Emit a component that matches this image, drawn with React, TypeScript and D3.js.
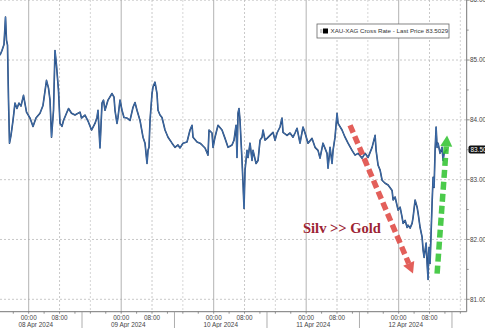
import React from "react";
import * as d3 from "d3";

// hours offset from 08 Apr 2024 00:00
const hours = [
  -7.45, -6.93, -6.41, -6.02, -5.76, -5.5, -5.24, -4.98, -4.59, -4.07, -3.56, -3.04, -2.52, -2.0, -1.35, -0.57,
  0.34, 1.12, 1.89, 2.93, 3.71, 4.62, 5.14, 5.53, 5.92, 6.44, 6.82, 7.21, 7.73, 8.12, 8.64, 9.03, 9.81, 10.33,
  11.11, 12.01, 13.31, 13.7, 14.61, 15.39, 16.3, 17.2, 17.72, 17.98, 18.5, 19.02, 19.41, 19.8, 20.58, 21.62,
  22.14, 22.39, 22.91, 23.17, 23.69, 24.21, 24.73, 25.51, 26.29, 27.07, 27.58, 28.1, 28.88, 29.66, 30.18, 30.7,
  30.96, 31.22, 31.48, 32.0, 32.26, 32.77, 33.29, 33.55, 34.07, 34.59, 35.37, 36.15, 37.19, 37.96, 38.74, 39.26,
  40.04, 41.08, 41.86, 42.38, 42.64, 43.68, 44.45, 44.97, 45.75, 46.53, 46.79, 47.57, 47.83, 48.34, 49.12, 50.16,
  50.94, 51.72, 52.76, 53.28, 53.8, 54.05, 54.31, 54.57, 54.83, 55.35, 55.61, 55.87, 56.13, 56.65, 56.91, 57.43,
  57.95, 58.21, 58.99, 59.51, 60.03, 60.55, 60.8, 61.32, 61.84, 63.4, 63.92, 64.44, 65.21, 65.73, 65.99, 67.03,
  67.81, 68.59, 69.11, 69.62, 70.4, 71.18, 71.7, 72.48, 73.52, 74.3, 75.07, 75.59, 76.37, 77.41, 77.67, 78.19,
  78.71, 78.97, 79.49, 80.01, 80.27, 81.3, 82.08, 82.86, 83.9, 84.68, 85.46, 86.5, 87.28, 88.06, 89.1, 89.88,
  90.14, 90.66, 91.18, 91.7, 92.48, 93.26, 94.29, 94.55, 95.07, 95.85, 96.37, 96.89, 97.15, 97.67, 98.19, 98.44,
  98.96, 99.48, 99.74, 100.26, 100.78, 101.04, 101.56, 102.08, 102.34, 102.6, 103.12, 103.38, 103.63, 103.76,
  103.89, 104.15, 104.67, 104.93, 105.19, 105.45, 105.71, 105.97, 106.22, 106.74, 107.26, 107.52, 107.78, 108.3,
  108.56,
];

const rates = [
  85.08, 85.16, 85.26, 85.72, 85.33, 85.25, 84.33, 83.61, 83.74, 83.99, 84.28, 84.19, 84.28, 84.23, 84.41, 84.13,
  84.03, 83.89, 84.03, 84.11, 84.24, 84.66, 84.53, 84.33, 83.71, 84.16, 85.16, 84.91, 84.49, 83.94, 83.89, 83.99,
  84.11, 84.19, 84.11, 84.08, 84.13, 84.03, 84.08, 83.98, 83.83, 83.94, 84.04, 84.16, 83.53, 84.28, 84.33, 84.16,
  84.33, 84.44, 84.38, 84.16, 83.94, 84.04, 84.33, 84.16, 84.04, 84.03, 83.99, 84.21, 84.29, 84.16, 83.99, 83.71,
  83.61, 83.27, 83.49, 83.54, 83.99, 84.44, 84.55, 84.63, 84.44, 84.16, 84.08, 84.04, 83.83, 83.71, 83.61, 83.54,
  83.58, 83.53, 83.61, 83.63, 83.83, 83.91, 83.71, 83.63, 83.61, 83.58, 83.53, 83.41, 83.83, 83.78, 83.54, 83.71,
  83.91, 83.83, 83.69, 83.54, 83.58, 83.66, 83.91, 83.37, 84.11, 84.19, 83.99, 83.32, 82.94, 82.52, 83.16, 83.49,
  83.37, 83.61, 83.32, 83.49, 83.27, 83.32, 83.66, 83.71, 83.83, 83.66, 83.69, 83.79, 83.66, 83.78, 83.88, 84.03,
  83.79, 83.74, 83.78, 83.71, 83.78, 83.86, 83.61, 83.88, 83.78, 83.61, 83.69, 83.54, 83.49, 83.36, 83.61, 83.44,
  83.19, 83.54, 83.27, 83.49, 83.71, 84.11, 83.94, 83.83, 83.71, 83.61, 83.49, 83.41, 83.44, 83.36, 83.44, 83.37,
  83.54, 83.74, 83.49, 83.24, 83.16, 82.99, 82.94, 82.91, 82.82, 82.66, 82.71, 82.49, 82.54, 82.37, 82.27, 82.32,
  82.2, 82.24, 82.19, 82.27, 82.37, 82.66, 82.54, 82.44, 82.2, 82.04, 81.82, 81.7, 81.94, 81.6, 81.33, 81.77,
  81.87, 81.6, 82.61, 83.04, 82.87, 83.49, 83.88, 83.54, 83.61, 83.44, 83.54, 83.32, 83.44, 83.49, 83.5,
];

const dayLabels = ["08 Apr 2024", "09 Apr 2024", "10 Apr 2024", "11 Apr 2024", "12 Apr 2024"];
const timeLabels = ["00:00", "08:00"];
const yTicks = [81, 82, 83, 84, 85, 86];
const legendText = "XAU-XAG Cross Rate - Last Price 83.5029";
const lastPrice = 83.5029;
const annotationText = "Silv >> Gold";
// annotation arrows: [hours, value] start -> tip
const redArrow = [[83.38, 83.91], [99.72, 81.43]];
const greenArrow = [[105.97, 81.43], [108.56, 83.74]];
const annotationPos = [71.18, 82.1];

const W = 485;
const H = 328;
const base = new Date(2024, 3, 8, 0, 0).getTime();
const toDate = (h: number) => new Date(base + h * 3600e3);

export default function App() {
  const plotRight = 466.7;
  const plotBottom = 311.7;
  const x = d3.scaleTime().domain([toDate(-7.447), toDate(113.65)]).range([0, plotRight]);
  const y = d3.scaleLinear().domain([81, 86]).range([299.3, 0.2]);

  const data = hours.map((h, i) => ({ d: toDate(h), v: rates[i] }));
  const line = d3
    .line<{ d: Date; v: number }>()
    .x((p) => x(p.d))
    .y((p) => y(p.v));

  const days = dayLabels.map((_, i) => i * 24);
  const minorTicks = d3.range(-4, 113, 4);
  const separators = d3.range(-1, 5).map((i) => 13.83 + i * 24);

  const arrow = (pts: number[][], color: string, key: string) => {
    const x0 = x(toDate(pts[0][0]));
    const y0 = y(pts[0][1]);
    const x1 = x(toDate(pts[1][0]));
    const y1 = y(pts[1][1]);
    const ang = Math.atan2(y1 - y0, x1 - x0);
    const headLen = 11;
    const headW = 6;
    const bx = x1 - headLen * Math.cos(ang);
    const by = y1 - headLen * Math.sin(ang);
    const px = -Math.sin(ang);
    const py = Math.cos(ang);
    return (
      <g key={key} opacity={0.88}>
        <line x1={x0} y1={y0} x2={bx} y2={by} stroke={color} strokeWidth={5.5} strokeDasharray="8,4" />
        <polygon
          points={`${x1},${y1} ${bx + px * headW},${by + py * headW} ${bx - px * headW},${by - py * headW}`}
          fill={color}
        />
      </g>
    );
  };

  const font = "'Liberation Sans', Arial, sans-serif";

  return (
    <svg width={W} height={H} style={{ position: "absolute", left: 0, top: 0, background: "#fff" }}>
      <rect width={W} height={H} fill="#fff" />
      {/* horizontal grid */}
      {yTicks.map((t) => (
        <line key={"hg" + t} x1={0} x2={plotRight} y1={y(t)} y2={y(t)} stroke="#bbb" strokeWidth={0.8} strokeDasharray="2,2" />
      ))}
      {/* vertical grid */}
      {days.map((h) => (
        <g key={"vg" + h}>
          <line x1={x(toDate(h))} x2={x(toDate(h))} y1={0} y2={plotBottom} stroke="#aaa" strokeWidth={0.9} />
          <line x1={x(toDate(h + 8))} x2={x(toDate(h + 8))} y1={0} y2={plotBottom} stroke="#bbb" strokeWidth={0.8} strokeDasharray="2,2" />
          <line x1={x(toDate(h + 16))} x2={x(toDate(h + 16))} y1={0} y2={plotBottom} stroke="#ccc" strokeWidth={0.8} strokeDasharray="2,2" />
        </g>
      ))}
      {/* series */}
      <path d={line(data) ?? ""} fill="none" stroke="#1e3d6b" strokeWidth={1.6} strokeLinejoin="round" />
      <path d={line(data) ?? ""} fill="none" stroke="#4a7fc2" strokeWidth={0.7} strokeLinejoin="round" />

      {/* axes */}
      <line x1={0} x2={plotRight} y1={plotBottom} y2={plotBottom} stroke="#777" strokeWidth={1} />
      <line x1={plotRight} x2={plotRight} y1={0} y2={plotBottom} stroke="#777" strokeWidth={1} />
      {minorTicks.map((h) => (
        <line key={"mt" + h} x1={x(toDate(h))} x2={x(toDate(h))} y1={plotBottom} y2={plotBottom + 2} stroke="#777" strokeWidth={0.8} />
      ))}
      {separators.map((h) => (
        <line key={"sp" + h} x1={x(toDate(h))} x2={x(toDate(h))} y1={plotBottom} y2={H} stroke="#999" strokeWidth={0.8} />
      ))}
      {days.map((h, i) => (
        <g key={"xl" + h} fontFamily={font} fontSize={6.4} fill="#444" textAnchor="middle">
          {timeLabels.map((tl, j) => (
            <text key={tl} x={x(toDate(h + j * 8))} y={319.5}>
              {tl}
            </text>
          ))}
          <text x={(x(toDate(separators[i])) + x(toDate(separators[i + 1]))) / 2} y={326.5}>
            {dayLabels[i]}
          </text>
        </g>
      ))}
      {/* y ticks */}
      {d3.range(81, 86.01, 0.5).map((t) => (
        <line key={"yt" + t} x1={plotRight} x2={plotRight + (t % 1 === 0 ? 3 : 2)} y1={y(t)} y2={y(t)} stroke="#777" strokeWidth={0.8} />
      ))}
      {yTicks.map((t) => (
        <text key={"yl" + t} x={470} y={y(t)} dy="0.35em" fontFamily={font} fontSize={6.4} fill="#444">
          {t.toFixed(2)}
        </text>
      ))}
      {/* last price */}
      <rect x={468.5} y={y(lastPrice) - 4} width={20} height={8} rx={2} fill="#111" />
      <text x={470.5} y={y(lastPrice)} dy="0.35em" fontFamily={font} fontSize={6.4} fill="#fff">
        {lastPrice.toFixed(2)}
      </text>

      {/* legend */}
      <rect x={317} y={24} width={132} height={14} fill="#fff" stroke="#666" strokeWidth={0.8} />
      <line x1={320} x2={322.5} y1={30} y2={30} stroke="#999" strokeWidth={1} />
      <line x1={320} x2={322.5} y1={32} y2={32} stroke="#999" strokeWidth={1} />
      <rect x={323} y={28.5} width={5} height={5} fill="#000" />
      <text x={330.5} y={33.2} fontFamily={font} fontSize={6.2} fill="#333">
        {legendText}
      </text>

      {/* annotations */}
      {arrow(redArrow, "#e04a44", "red")}
      {arrow(greenArrow, "#33c433", "green")}
      <text
        x={x(toDate(annotationPos[0]))}
        y={y(annotationPos[1])}
        fontFamily="'Liberation Serif', 'Times New Roman', serif"
        fontWeight="bold"
        fontSize={14.5}
        fill="#9c2433"
      >
        {annotationText}
      </text>
    </svg>
  );
}
